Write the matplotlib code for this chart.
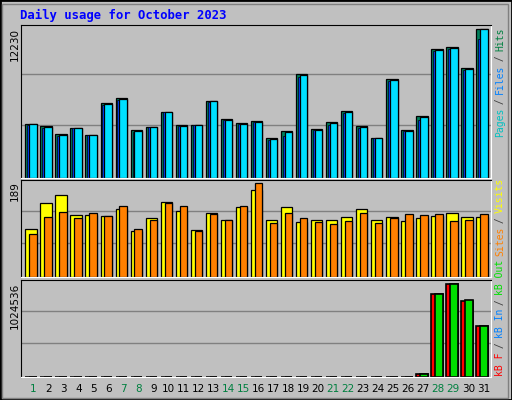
import matplotlib
matplotlib.use("Agg")
import matplotlib.pyplot as plt
from matplotlib.patches import Rectangle

days = list(range(1, 32))
weekend_days = [1, 7, 8, 14, 15, 21, 22, 28, 29]
hits = [4427,4261,3597,4095,3514,6087,6502,3929,4178,5423,4344,4344,6253,4842,4510,4676,3265,3846,8494,4012,4593,5506,4261,3265,8079,3929,5091,10570,10736,8993,12230]
files = [4350,4100,3400,4050,3480,5950,6350,3780,4120,5380,4200,4300,6200,4700,4380,4550,3120,3450,8250,3880,4300,5300,4100,3230,7900,3800,4750,10400,10600,8850,11400]
pages = [4427,4178,3514,4095,3514,6004,6419,3846,4178,5423,4261,4344,6253,4759,4427,4593,3182,3763,8412,3929,4510,5423,4178,3265,7997,3846,5008,10487,10653,8910,12230]
visits = [96,149,166,125,125,123,137,92,119,151,133,94,129,114,140,176,114,141,110,114,114,120,137,114,120,113,119,123,129,120,120]
sites = [86,121,131,119,129,123,143,96,115,150,143,92,127,114,142,189,108,129,119,110,106,112,129,108,119,127,125,127,112,114,127]
kb_f = [0]*26 + [26000, 912000, 1024536, 830000, 561000]
kb_in = [0]*31
kb_out = [0]*26 + [26000, 912000, 1024536, 841000, 561000]
max_hits, max_visits, max_kb = 12230, 189, 1024536

W, H = 512, 400
BG = "#C0C0C0"
fig = plt.figure(figsize=(W/100, H/100), dpi=100, facecolor=BG)
fig.patches.append(Rectangle((0, 0), 1, 1, transform=fig.transFigure, fill=False, edgecolor="black", lw=2))
fig.patches.append(Rectangle((2/W, 2/H), (W-6)/W, (H-6)/H, transform=fig.transFigure, fill=False, edgecolor="#808080", lw=1))

def ax_px(x0, y0, x1, y1):
    return fig.add_axes([x0/W, 1-y1/H, (x1-x0)/W, (y1-y0)/H])

mono = "DejaVu Sans Mono"
fig.text(20/W, 1-15/H, "Daily usage for October 2023", color="#0000FF", fontsize=8.8,
         fontweight="bold", family=mono, va="center", ha="left")

def style(ax, ymax):
    ax.set_facecolor(BG)
    ax.set_xlim(0, 31.27)
    ax.set_ylim(0, ymax)
    ax.set_xticks([]); ax.set_yticks([])
    for s in ("top", "left"):
        ax.spines[s].set_color("black")
    for s in ("bottom", "right"):
        ax.spines[s].set_color("white")
    for f in (1/3*1.03, 2/3*1.02):
        ax.axhline(ymax*f, color="#808080", lw=1, zorder=0)

xs = [d-1 for d in days]
ek = dict(edgecolor="black", linewidth=0.9, align="edge")

a1 = ax_px(20.7, 25, 490.7, 177.5)
style(a1, max_hits*1.025)
a1.bar([x+0.31 for x in xs], hits, 0.76, color="#00805C", **ek)
a1.bar([x+0.44 for x in xs], files, 0.63, color="#0040FF", edgecolor="black", linewidth=0.5, align="edge")
a1.bar([x+0.57 for x in xs], pages, 0.5, color="#00E0FF", **ek)

a2 = ax_px(20.7, 180, 490.7, 276.5)
style(a2, max_visits*1.035)
a2.bar([x+0.31 for x in xs], visits, 0.76, color="#FFFF00", **ek)
a2.bar([x+0.57 for x in xs], sites, 0.5, color="#FF8000", **ek)

a3 = ax_px(20.7, 280, 490.7, 376.5)
style(a3, max_kb*1.04)
a3.bar([x+0.31 for x in xs], kb_f, 0.76, color="#FF0000", edgecolor="black", linewidth=1.2, align="edge")
a3.bar([x+0.44 for x in xs], kb_in, 0.63, color="#0080FF", edgecolor="black", linewidth=0.5, align="edge")
a3.bar([x+0.57 for x in xs], kb_out, 0.5, color="#00E000", edgecolor="black", linewidth=1.2, align="edge")

for d in days:
    fig.text((20.7 + (d-1+0.84)*15.0)/W, 1-389/H, str(d), ha="center", va="center", fontsize=7.5,
             color="#008040" if d in weekend_days else "black")

for y, lab in [(28, str(max_hits)), (181, str(max_visits)), (283, str(max_kb))]:
    fig.text(15/W, 1-y/H, lab, rotation=90, ha="center", va="top", fontsize=7.5, color="black")

pitch = 5.4
def side(bottom_px, pieces):
    idx = 0
    for txt, col in pieces:
        fig.text(500/W, 1-(bottom_px - idx*pitch)/H, txt, rotation=90, ha="center", va="bottom",
                 family=mono, fontsize=7, color=col)
        idx += len(txt)

side(137, [("Pages", "#00C0C0"), (" / ", "#404040"), ("Files", "#0080FF"), (" / ", "#404040"), ("Hits", "#008040")])
side(256, [("Sites", "#FF8000"), (" / ", "#404040"), ("Visits", "#FFFF00")])
side(376, [("kB F", "#FF0000"), (" / ", "#404040"), ("kB In", "#0080FF"), (" / ", "#404040"), ("kB Out", "#00E000")])

fig.savefig("out.png", dpi=100, facecolor=BG)
